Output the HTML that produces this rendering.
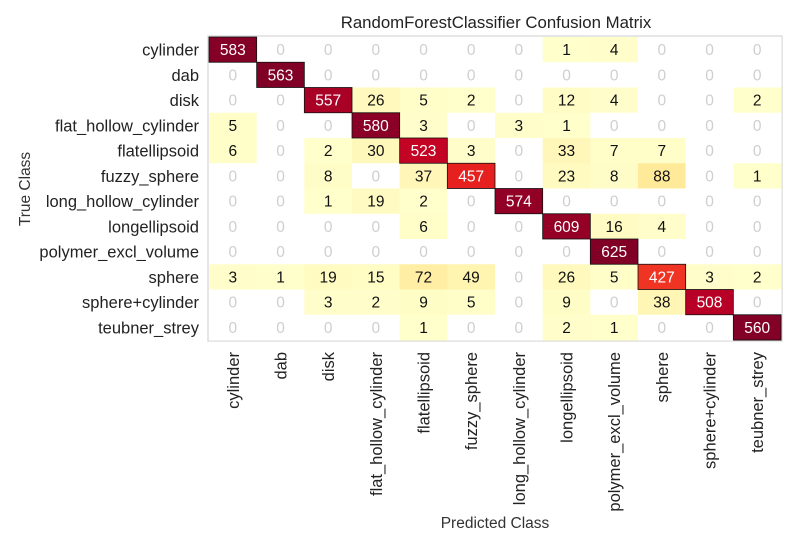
<!DOCTYPE html>
<html><head><meta charset="utf-8">
<style>
body{margin:0;background:#fff;width:800px;height:550px;overflow:hidden;font-family:"Liberation Sans","DejaVu Sans",sans-serif}
</style></head>
<body>
<svg id="chart" width="800" height="550" xmlns="http://www.w3.org/2000/svg" font-family="Liberation Sans, DejaVu Sans, sans-serif"></svg>
<script>
const classes=["cylinder","dab","disk","flat_hollow_cylinder","flatellipsoid","fuzzy_sphere","long_hollow_cylinder","longellipsoid","polymer_excl_volume","sphere","sphere+cylinder","teubner_strey"];
const row0=[583,0,0,0,0,0,0,1,4,0,0,0];
const row1=[0,563,0,0,0,0,0,0,0,0,0,0];
const row2=[0,0,557,26,5,2,0,12,4,0,0,2];
const row3=[5,0,0,580,3,0,3,1,0,0,0,0];
const row4=[6,0,2,30,523,3,0,33,7,7,0,0];
const row5=[0,0,8,0,37,457,0,23,8,88,0,1];
const row6=[0,0,1,19,2,0,574,0,0,0,0,0];
const row7=[0,0,0,0,6,0,0,609,16,4,0,0];
const row8=[0,0,0,0,0,0,0,0,625,0,0,0];
const row9=[3,1,19,15,72,49,0,26,5,427,3,2];
const row10=[0,0,3,2,9,5,0,9,0,38,508,0];
const row11=[0,0,0,0,1,0,0,2,1,0,0,560];
const matrix=[row0,row1,row2,row3,row4,row5,row6,row7,row8,row9,row10,row11];

const svg=document.getElementById('chart');
const NS='http://www.w3.org/2000/svg';
const L=209,R=781,T=37,B=340;
const cw=(R-L)/classes.length, ch=(B-T)/classes.length;
const xPos=i=>L+i*cw, yPos=i=>T+i*ch;
const stops=["#ffffcc","#ffeda0","#fed976","#feb24c","#fd8d3c","#fc4e2a","#e31a1c","#bd0026","#800026"];
function hex(c){return [1,3,5].map(k=>parseInt(c.substr(k,2),16));}
function cmap(t){t=Math.max(0,Math.min(1,t));const p=t*(stops.length-1);const i=Math.min(Math.floor(p),stops.length-2);const f=p-i;const a=hex(stops[i]),b=hex(stops[i+1]);return 'rgb('+a.map((v,k)=>Math.round(v+(b[k]-v)*f)).join(',')+')';}
function el(tag,attrs,txt){const e=document.createElementNS(NS,tag);for(const k in attrs)e.setAttribute(k,attrs[k]);if(txt!==undefined)e.textContent=txt;svg.appendChild(e);return e;}

const title=el('text',{x:496,y:28,'text-anchor':'middle','font-size':16.8,fill:'#222'},'RandomForestClassifier Confusion Matrix');


const frame=el('rect',{x:L-1,y:T-1,width:R-L+2,height:B-T+2,fill:'#fff',stroke:'#ddd','stroke-width':1.5});



matrix.forEach((row,r)=>{
  const sum=row.reduce((a,b)=>a+b,0);
  row.forEach((v,c)=>{
    const t=v/sum;
    const rect=el('rect',{x:xPos(c),y:yPos(r),width:cw+0.5,height:ch+0.5,fill:v===0?'#ffffff':cmap(t)});
    
    
    const col=v===0?'#cfcfcf':(t>0.6?'#ffffff':'#111');
    const tx=el('text',{x:xPos(c)+cw/2,y:yPos(r)+ch/2+5.5,'text-anchor':'middle','font-size':15.5,fill:col},String(v));
    
    
  });
});
matrix.forEach((row,i)=>{
  const o=el('rect',{x:xPos(i),y:yPos(i),width:cw,height:ch,fill:'none',stroke:'#111','stroke-width':0.8});
  
  
});
classes.forEach((c,i)=>{
  const yl=el('text',{x:199,y:yPos(i)+ch/2+6,'text-anchor':'end','font-size':16.5,fill:'#222'},c);
  
  
  const xx=xPos(i)+cw/2+6;
  const xl=el('text',{x:xx,y:352,'text-anchor':'end','font-size':16.5,fill:'#222',transform:'rotate(-90 '+xx+' 352)'},c);
  
  
});
const yt=el('text',{x:30,y:189,'text-anchor':'middle','font-size':15.5,fill:'#333',transform:'rotate(-90 30 189)'},'True Class');


const xt=el('text',{x:495,y:528,'text-anchor':'middle','font-size':15.5,fill:'#333'},'Predicted Class');


</script>
</body></html>
